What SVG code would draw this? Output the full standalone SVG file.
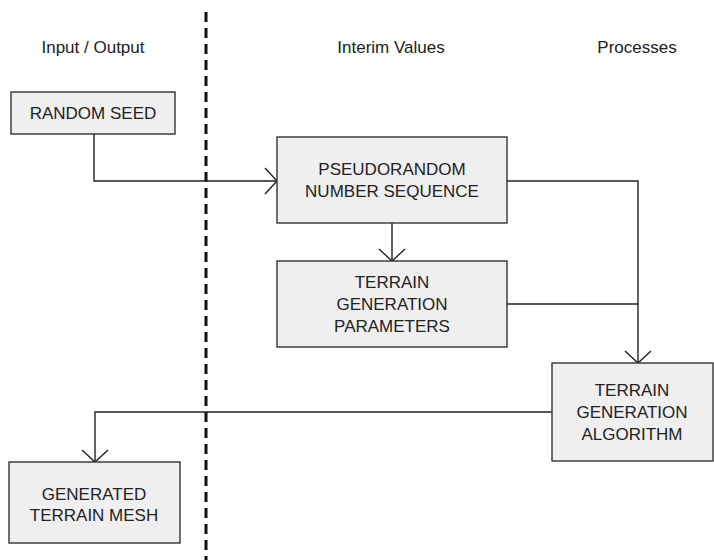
<svg xmlns="http://www.w3.org/2000/svg" width="714" height="560" viewBox="0 0 714 560">
  <defs>
    <style>
      .box { fill: #efefef; stroke: #333333; stroke-width: 1.4; }
      .lbl { font-family: "Liberation Sans", Arial, sans-serif; font-size: 17px; fill: #222222; text-anchor: middle; }
      .hdr { font-family: "Liberation Sans", Arial, sans-serif; font-size: 17px; fill: #222222; text-anchor: middle; }
      .wire { fill: none; stroke: #222222; stroke-width: 1.4; }
      .divider { stroke: #111111; stroke-width: 3; stroke-dasharray: 10 6; }
    </style>
    <marker id="openArrow" markerUnits="userSpaceOnUse" viewBox="-14 -14 16 28" refX="0" refY="0" markerWidth="16" markerHeight="28" orient="auto" overflow="visible">
      <path d="M-12,-13 L0,0 L-12,13" fill="none" stroke="#222222" stroke-width="1.4"/>
    </marker>
  </defs>

  <!-- column headings -->
  <text class="hdr" x="93" y="53">Input / Output</text>
  <text class="hdr" x="391" y="53">Interim Values</text>
  <text class="hdr" x="637" y="53">Processes</text>

  <!-- column divider -->
  <line class="divider" x1="206" y1="12" x2="206" y2="560"/>

  <!-- connectors -->
  <g id="connectors">
    <path class="wire" d="M94,134 V181 H277" marker-end="url(#openArrow)"/>
    <path class="wire" d="M392,223 V261" marker-end="url(#openArrow)"/>
    <path class="wire" d="M507,181 H638 V363" marker-end="url(#openArrow)"/>
    <path class="wire" d="M507,304 H638"/>
    <path class="wire" d="M552,412 H95 V462" marker-end="url(#openArrow)"/>
  </g>

  <!-- nodes -->
  <g id="random-seed">
    <rect class="box" x="11" y="92" width="164" height="42"/>
    <text class="lbl" x="93" y="119">RANDOM SEED</text>
  </g>

  <g id="pseudorandom-sequence">
    <rect class="box" x="277" y="137" width="230" height="86"/>
    <text class="lbl" x="392" y="175">PSEUDORANDOM</text>
    <text class="lbl" x="392" y="197">NUMBER SEQUENCE</text>
  </g>

  <g id="terrain-parameters">
    <rect class="box" x="277" y="261" width="230" height="86"/>
    <text class="lbl" x="392" y="288">TERRAIN</text>
    <text class="lbl" x="392" y="310">GENERATION</text>
    <text class="lbl" x="392" y="332">PARAMETERS</text>
  </g>

  <g id="terrain-algorithm">
    <rect class="box" x="552" y="363" width="161" height="98"/>
    <text class="lbl" x="632" y="396">TERRAIN</text>
    <text class="lbl" x="632" y="418">GENERATION</text>
    <text class="lbl" x="632" y="440">ALGORITHM</text>
  </g>

  <g id="terrain-mesh">
    <rect class="box" x="9" y="462" width="171" height="81"/>
    <text class="lbl" x="94" y="500">GENERATED</text>
    <text class="lbl" x="94" y="521">TERRAIN MESH</text>
  </g>
</svg>
